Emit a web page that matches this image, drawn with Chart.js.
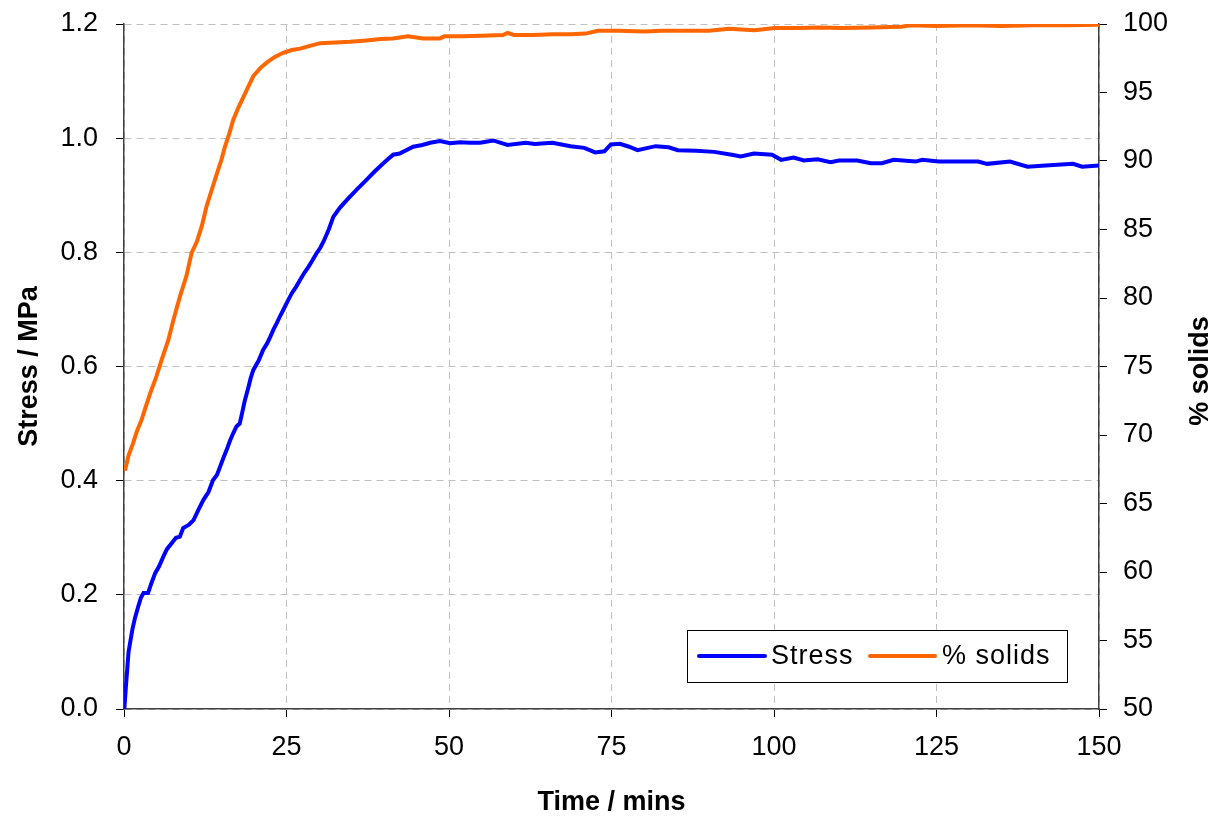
<!DOCTYPE html>
<html>
<head>
<meta charset="utf-8">
<script src="https://cdn.jsdelivr.net/npm/chart.js@4/dist/chart.umd.min.js"></script>
<style>
  html, body { margin: 0; padding: 0; background: #ffffff; }
  canvas { display: block; }
</style>
</head>
<body>
<canvas id="c" width="1217" height="816"></canvas>
<script>
// ---- Data ----
const stressTime = [0.05,0.3,0.5,0.7,1.0,1.3,1.7,2.2,2.6,3.0,3.7,4.2,4.8,5.4,6.05,6.6,7.3,8.0,8.6,9.1,10.0,10.7,11.5,12.2,13.0,13.7,14.3,14.8,15.3,15.8,16.3,16.8,17.3,17.8,18.2,18.6,19.1,19.5,19.9,20.7,21.4,22.0,22.5,23.0,23.5,24.0,24.5,25.2,25.8,26.5,27.1,27.8,28.4,29.0,29.6,30.2,30.7,31.5,32.2,33.2,34.3,35.8,37.3,38.6,39.9,41.4,42.4,44.5,45.9,47.1,48.6,50.2,51.7,53.2,54.8,56.8,59.0,61.8,63.2,65.9,68.7,70.8,72.5,73.9,74.9,76.3,77.7,79.0,81.8,83.8,85.2,88.0,90.8,93.5,94.9,96.9,99.7,101.1,103.0,104.6,106.7,108.7,110.0,112.8,114.9,116.6,118.4,121.8,122.8,125.3,131.4,132.8,136.3,139.0,141.8,146.0,147.4,150.0];
const stressValues = [0,0.04,0.07,0.10,0.12,0.14,0.16,0.18,0.195,0.203,0.203,0.22,0.238,0.25,0.267,0.28,0.29,0.30,0.302,0.317,0.323,0.331,0.35,0.366,0.38,0.401,0.41,0.425,0.44,0.454,0.47,0.483,0.495,0.50,0.52,0.541,0.562,0.58,0.594,0.61,0.629,0.64,0.652,0.665,0.676,0.688,0.699,0.715,0.728,0.74,0.752,0.765,0.775,0.786,0.798,0.808,0.819,0.84,0.862,0.878,0.892,0.91,0.927,0.942,0.956,0.971,0.973,0.985,0.988,0.992,0.995,0.991,0.993,0.992,0.992,0.996,0.988,0.992,0.990,0.992,0.986,0.983,0.975,0.977,0.989,0.990,0.985,0.979,0.986,0.984,0.979,0.978,0.976,0.971,0.968,0.973,0.971,0.962,0.966,0.961,0.963,0.958,0.961,0.961,0.956,0.956,0.962,0.959,0.962,0.959,0.959,0.955,0.959,0.950,0.952,0.955,0.950,0.952];

const solidsTime = [0.15,0.7,1.4,2.0,2.7,3.3,4.0,5.0,5.8,6.8,7.6,8.6,9.6,10.4,11.2,12.0,12.7,13.5,14.3,15.0,15.5,16.2,16.8,17.6,18.4,19.2,19.9,21.0,22.0,23.2,24.5,25.8,27.1,28.6,30.2,32.5,34.8,37.3,39.5,41.4,43.7,46.0,48.6,49.3,52.0,55.0,58.3,59.0,60.0,63.0,66.0,68.8,71.0,72.9,76.0,80.0,82.7,86.0,90.0,93.1,95.0,97.0,100.1,104.0,107.0,110.5,115.0,119.6,121.0,125.0,130.0,135.0,140.0,145.0,150.0];
const solidsValues = [67.4,68.5,69.4,70.3,71.1,72.0,73.0,74.3,75.5,76.9,78.4,80.1,81.6,83.3,84.1,85.3,86.7,87.9,89.1,90.1,91.0,92.0,93.0,93.9,94.7,95.5,96.2,96.8,97.2,97.6,97.9,98.1,98.2,98.4,98.6,98.65,98.7,98.8,98.9,98.95,99.1,98.95,98.95,99.1,99.1,99.15,99.2,99.35,99.2,99.2,99.25,99.25,99.3,99.5,99.5,99.45,99.5,99.5,99.5,99.65,99.6,99.55,99.7,99.7,99.75,99.7,99.75,99.8,99.9,99.85,99.9,99.85,99.9,99.9,99.95];

const seriesNames = ['Stress', '% solids'];
const seriesColors = ['#0000FF', '#FF6600'];

const xTicks = { min: 0, max: 150, step: 25 };
const yLeftTicks = { min: 0, max: 1.2, step: 0.2 };
const yRightTicks = { min: 50, max: 100, step: 5 };

const FONT = 'Liberation Sans, Arial, sans-serif';
const gridColor = '#c0c0c0';
const axisColor = '#404040';

function toPoints(xs, ys) { return xs.map((x, i) => ({ x: x, y: ys[i] })); }

const legendAndTitlePlugin = {
  id: 'legendAndTitle',
  afterDraw(chart) {
    const ctx = chart.ctx;
    ctx.save();
    // Right axis title (bottom-to-top)
    ctx.font = 'bold 27px ' + FONT;
    ctx.fillStyle = '#000';
    ctx.textAlign = 'center';
    ctx.textBaseline = 'middle';
    ctx.translate(1201, 371);
    ctx.rotate(-Math.PI / 2);
    ctx.fillText('% solids', 0, 0);
    ctx.restore();

    // Legend box
    ctx.save();
    const bx = 687.5, by = 630.5, bw = 380, bh = 52;
    ctx.fillStyle = '#ffffff';
    ctx.fillRect(bx, by, bw, bh);
    ctx.strokeStyle = '#000000';
    ctx.lineWidth = 1;
    ctx.strokeRect(bx, by, bw, bh);
    const cy = 656;
    const items = [
      { x1: 699, x2: 765, tx: 771 },
      { x1: 870, x2: 935, tx: 942 }
    ];
    ctx.font = '27px ' + FONT;
    ctx.textBaseline = 'middle';
    ctx.textAlign = 'left';
    items.forEach((it, i) => {
      ctx.strokeStyle = seriesColors[i];
      ctx.lineWidth = 4;
      ctx.lineCap = 'round';
      ctx.beginPath();
      ctx.moveTo(it.x1, cy);
      ctx.lineTo(it.x2, cy);
      ctx.stroke();
      ctx.fillStyle = '#000';
      if ('letterSpacing' in ctx) ctx.letterSpacing = '1px';
      ctx.fillText(seriesNames[i], it.tx, cy + 1);
    });
    ctx.restore();
  }
};

new Chart(document.getElementById('c'), {
  type: 'line',
  data: {
    datasets: [
      {
        label: seriesNames[0],
        data: toPoints(stressTime, stressValues),
        borderColor: seriesColors[0],
        backgroundColor: seriesColors[0],
        borderWidth: 4,
        pointRadius: 0,
        tension: 0,
        yAxisID: 'y'
      },
      {
        label: seriesNames[1],
        data: toPoints(solidsTime, solidsValues),
        borderColor: seriesColors[1],
        backgroundColor: seriesColors[1],
        borderWidth: 4,
        pointRadius: 0,
        tension: 0,
        yAxisID: 'y1'
      }
    ]
  },
  options: {
    responsive: false,
    animation: false,
    layout: { padding: { top: 24, left: 0, right: 0, bottom: 0 } },
    plugins: {
      legend: { display: false },
      tooltip: { enabled: false }
    },
    scales: {
      x: {
        type: 'linear',
        position: 'bottom',
        min: xTicks.min,
        max: xTicks.max,
        ticks: {
          stepSize: xTicks.step,
          color: '#000',
          font: { family: FONT, size: 27 },
          padding: 14,
          maxRotation: 0
        },
        grid: {
          color: gridColor,
          tickBorderDash: [],
          tickColor: '#000',
          tickLength: 8,
          lineWidth: 1
        },
        border: { display: true, color: axisColor, width: 1.5, dash: [7, 5] },
        title: {
          display: true,
          text: 'Time / mins',
          color: '#000',
          font: { family: FONT, size: 27, weight: 'bold', lineHeight: 1 },
          padding: { top: 0, bottom: 0 }
        },
        afterFit(scale) { scale.height = 107; scale.paddingLeft = 0; scale.paddingRight = 0; }
      },
      y: {
        type: 'linear',
        position: 'left',
        min: yLeftTicks.min,
        max: yLeftTicks.max,
        ticks: {
          stepSize: yLeftTicks.step,
          color: '#000',
          font: { family: FONT, size: 27 },
          padding: 18,
          callback: (v) => Number(v).toFixed(1)
        },
        grid: {
          color: gridColor,
          tickBorderDash: [],
          tickColor: '#000',
          tickLength: 8,
          lineWidth: 1
        },
        border: { display: true, color: axisColor, width: 1.5, dash: [7, 5] },
        title: {
          display: true,
          text: 'Stress / MPa',
          color: '#000',
          font: { family: FONT, size: 27, weight: 'bold', lineHeight: 1 },
          padding: { top: 16, bottom: 0 }
        },
        afterFit(scale) { scale.width = 124; scale.paddingTop = 0; scale.paddingBottom = 0; }
      },
      y1: {
        type: 'linear',
        position: 'right',
        min: yRightTicks.min,
        max: yRightTicks.max,
        ticks: {
          stepSize: yRightTicks.step,
          color: '#000',
          font: { family: FONT, size: 27 },
          padding: 16
        },
        grid: {
          drawOnChartArea: false,
          tickColor: '#000',
          tickLength: 8
        },
        border: { display: true, color: axisColor, width: 1.5 },
        afterFit(scale) { scale.width = 118; scale.paddingTop = 0; scale.paddingBottom = 0; }
      }
    }
  },
  plugins: [legendAndTitlePlugin]
});
</script>
</body>
</html>
